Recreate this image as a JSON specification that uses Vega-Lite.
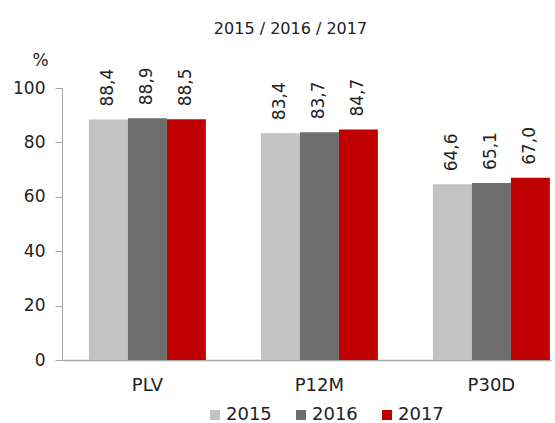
{
  "$schema": "https://vega.github.io/schema/vega-lite/v6.json",
  "width": 489,
  "height": 272,
  "autosize": {"type": "none"},
  "padding": {"left": 62, "top": 88, "right": 4, "bottom": 63},
  "background": "white",
  "config": {
    "font": "DejaVu Sans",
    "view": {"stroke": null},
    "locale": {"number": {"decimal": ",", "thousands": ".", "grouping": [3], "currency": ["", " €"]}}
  },
  "title": {
    "text": "2015 / 2016 / 2017",
    "fontSize": 16,
    "fontWeight": "normal",
    "color": "#222222",
    "anchor": "middle",
    "frame": "group",
    "dx": -16,
    "offset": 14
  },
  "data": {
    "values": [
      {"cat": "PLV", "year": "2015", "v": 88.4},
      {"cat": "PLV", "year": "2016", "v": 88.9},
      {"cat": "PLV", "year": "2017", "v": 88.5},
      {"cat": "P12M", "year": "2015", "v": 83.4},
      {"cat": "P12M", "year": "2016", "v": 83.7},
      {"cat": "P12M", "year": "2017", "v": 84.7},
      {"cat": "P30D", "year": "2015", "v": 64.6},
      {"cat": "P30D", "year": "2016", "v": 65.1},
      {"cat": "P30D", "year": "2017", "v": 67.0}
    ]
  },
  "encoding": {
    "x": {
      "field": "cat", "type": "nominal", "sort": ["PLV", "P12M", "P30D"],
      "scale": {"paddingInner": 0.32, "paddingOuter": 0.0815, "align": 0.96},
      "axis": {"title": null, "labelAngle": 0, "ticks": false, "domainColor": "#a6a6a6", "domainWidth": 1.5, "labelFontSize": 18, "labelColor": "#222222", "labelPadding": 16}
    },
    "xOffset": {"field": "year", "type": "nominal", "sort": ["2015", "2016", "2017"]},
    "y": {
      "field": "v", "type": "quantitative",
      "scale": {"domain": [0, 100]},
      "axis": {"title": "%", "titleAngle": 0, "titleAlign": "center", "titleBaseline": "middle", "titleX": -22, "titleY": -28, "titleFontSize": 17, "titleFontWeight": "normal", "titleColor": "#222222", "tickCount": 5, "grid": false, "domainColor": "#a6a6a6", "tickColor": "#a6a6a6", "tickSize": 7, "labelFontSize": 17, "labelColor": "#222222", "labelPadding": 10}
    }
  },
  "layer": [
    {
      "mark": {"type": "bar"},
      "encoding": {
        "color": {
          "field": "year", "type": "nominal",
          "scale": {"domain": ["2015", "2016", "2017"], "range": ["#c3c3c3", "#6e6e6e", "#c00000"]},
          "legend": {"title": null, "orient": "none", "direction": "horizontal", "legendX": 144, "legendY": 318, "symbolType": "square", "symbolSize": 100, "labelFontSize": 18, "labelColor": "#222222", "labelOffset": 2, "columnPadding": 20, "symbolStrokeWidth": 0}
        }
      }
    },
    {
      "mark": {"type": "text", "angle": -90, "align": "left", "baseline": "middle", "dx": 13, "fontSize": 17, "color": "#222222"},
      "encoding": {
        "text": {"field": "v", "type": "quantitative", "format": ".1f"}
      }
    }
  ]
}
